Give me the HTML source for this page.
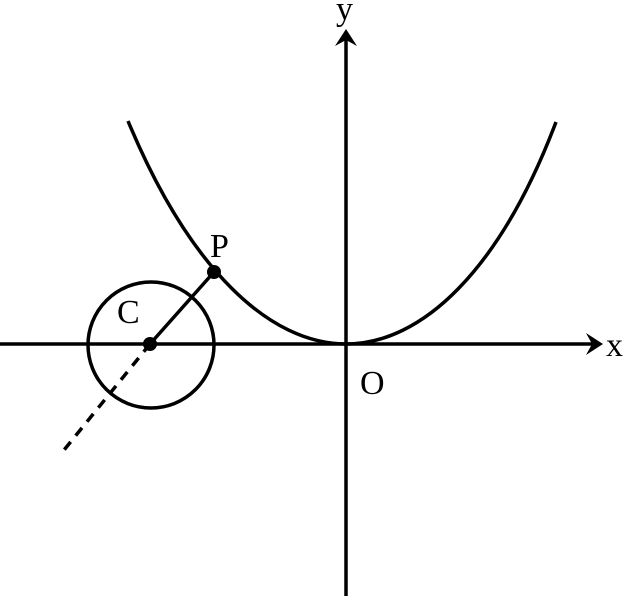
<!DOCTYPE html>
<html><head><style>html,body{margin:0;padding:0;background:#fff}svg{display:block}</style></head>
<body>
<svg width="628" height="596" viewBox="0 0 628 596" xmlns="http://www.w3.org/2000/svg">
<g stroke="#000" stroke-width="3.5" fill="none">
<line x1="0" y1="344" x2="596" y2="344"/>
<line x1="346" y1="596" x2="346" y2="36"/>
<path d="M128,121 C190,270 270,344 346,344 C422,344 500,270 556,122"/>
<circle cx="151" cy="345" r="63"/>
<line x1="150" y1="344" x2="214" y2="272"/>
<line x1="150" y1="344" x2="60" y2="455" stroke-dasharray="10,8"/>
</g>
<path d="M346,29 L357,46 L346,40 L335,46 Z" fill="#000"/>
<path d="M603,344 L586,333 L592,344 L586,355 Z" fill="#000"/>
<circle cx="150" cy="344" r="7" fill="#000"/>
<circle cx="214" cy="272" r="7" fill="#000"/>
<g font-family="Liberation Serif, serif" font-size="34" fill="#000">
<text x="336" y="20">y</text>
<text x="606" y="356">x</text>
<text x="360" y="394">O</text>
<text x="117" y="323">C</text>
<text x="210" y="257">P</text>
</g>
</svg>
</body></html>
